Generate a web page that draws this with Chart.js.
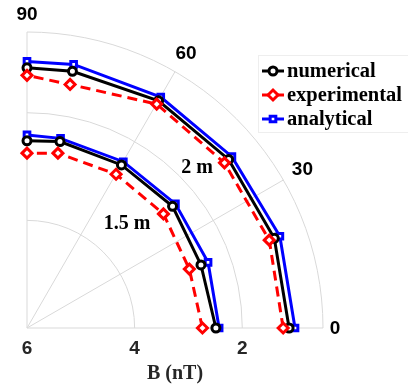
<!DOCTYPE html>
<html>
<head>
<meta charset="utf-8">
<script src="https://cdn.jsdelivr.net/npm/chart.js@4.4.1/dist/chart.umd.min.js"></script>
<style>
    html, body { margin: 0; padding: 0; background: #fff; }
    #wrap { width: 408px; height: 389px; position: relative; }
</style>
</head>
<body>
<div id="wrap"><canvas id="polar-chart"></canvas></div>
<script>
// angles in degrees, B in nT (radial axis runs from 6 at the centre to 0.5 at the rim)
const angles = [0, 20, 40, 60, 80, 90];

const numerical15 = [2.49, 2.56, 2.47, 2.49, 2.47, 2.51];
const experimental15 = [2.74, 2.79, 2.69, 2.69, 2.69, 2.74];
const analytical15 = [2.43, 2.42, 2.40, 2.42, 2.41, 2.40];

const numerical2 = [1.13, 1.11, 1.11, 1.11, 1.14, 1.15];
const experimental2 = [1.24, 1.21, 1.21, 1.18, 1.39, 1.29];
const analytical2 = [1.02, 1.00, 1.03, 1.03, 1.01, 1.03];

const rTicks = [6, 4, 2];
const angleTicks = [0, 30, 60, 90];
const B_CENTER = 6;
const B_RIM = 0.5;

document.addEventListener('DOMContentLoaded', function() {
    const R = B_CENTER - B_RIM;

    // polar (angle, B) -> cartesian in radius units
    function toXY(values) {
        return values.map(function(b, i) {
            const r = B_CENTER - b;
            const t = angles[i] * Math.PI / 180;
            return { x: r * Math.cos(t), y: r * Math.sin(t) };
        });
    }

    const series = [
        { name: 'numerical', color: '#000000', style: 'circle', dash: [], radius: 4 },
        { name: 'experimental', color: '#ff0000', style: 'rectRot', dash: [10, 6], radius: 5 },
        { name: 'analytical', color: '#0000ff', style: 'rect', dash: [], radius: 4 }
    ];

    function makeSet(s, values) {
        return {
            label: s.name,
            data: toXY(values),
            showLine: true,
            borderColor: s.color,
            backgroundColor: '#ffffff',
            borderWidth: 3,
            borderDash: s.dash,
            pointStyle: s.style,
            pointRadius: s.radius,
            pointBorderWidth: 3,
            pointBorderColor: s.color,
            pointBackgroundColor: '#ffffff',
            clip: false,
            tension: 0
        };
    }

    const datasets = [
        makeSet(series[1], experimental15),
        makeSet(series[0], numerical15),
        makeSet(series[2], analytical15),
        makeSet(series[1], experimental2),
        makeSet(series[0], numerical2),
        makeSet(series[2], analytical2)
    ];

    // grid, tick labels, annotations and legend
    const polarPlugin = {
        id: 'polarGrid',
        beforeDatasetsDraw: function(chart) {
            const ctx = chart.ctx;
            const xs = chart.scales.x, ys = chart.scales.y;
            const cx = xs.getPixelForValue(0), cy = ys.getPixelForValue(0);
            const pxPerUnit = xs.getPixelForValue(1) - cx;
            ctx.save();
            ctx.strokeStyle = '#d9d9d9';
            ctx.lineWidth = 1;
            // arcs at the tick values and the rim
            rTicks.concat([B_RIM]).forEach(function(b) {
                const r = (B_CENTER - b) * pxPerUnit;
                if (r <= 0) return;
                ctx.beginPath();
                ctx.arc(cx, cy, r, -Math.PI / 2, 0);
                ctx.stroke();
            });
            // spokes
            angleTicks.forEach(function(a) {
                const t = a * Math.PI / 180;
                ctx.beginPath();
                ctx.moveTo(cx, cy);
                ctx.lineTo(cx + R * pxPerUnit * Math.cos(t), cy - R * pxPerUnit * Math.sin(t));
                ctx.stroke();
            });
            ctx.restore();
        },
        afterDraw: function(chart) {
            const ctx = chart.ctx;
            const xs = chart.scales.x, ys = chart.scales.y;
            const cx = xs.getPixelForValue(0), cy = ys.getPixelForValue(0);
            const pxPerUnit = xs.getPixelForValue(1) - cx;
            const rim = R * pxPerUnit;
            ctx.save();

            // angle labels
            ctx.font = 'bold 19px "Liberation Sans", Arial, sans-serif';
            ctx.fillStyle = '#000';
            ctx.textBaseline = 'middle';
            angleTicks.forEach(function(a) {
                const t = a * Math.PI / 180;
                let off = 22;
                if (a === 0) off = 12;
                if (a === 90) off = 18;
                ctx.textAlign = 'center';
                ctx.fillText(String(a), cx + (rim + off) * Math.cos(t), cy - (rim + off) * Math.sin(t) + 1);
            });

            // radial tick labels
            ctx.fillStyle = '#262626';
            ctx.textAlign = 'center';
            rTicks.forEach(function(b) {
                ctx.fillText(String(b), xs.getPixelForValue(B_CENTER - b), cy + 21);
            });

            // axis title
            ctx.font = 'bold 20px "Liberation Serif", "Times New Roman", serif';
            ctx.fillStyle = '#262626';
            ctx.fillText('B (nT)', 175, 374);

            // distance annotations
            ctx.fillStyle = '#000';
            ctx.fillText('2 m', 197, 168);
            ctx.fillText('1.5 m', 127, 224);

            // legend
            const lx = 258, ly = 55, lw = 150, lh = 77;
            ctx.fillStyle = '#fff';
            ctx.fillRect(lx, ly, lw, lh);
            ctx.strokeStyle = '#eeeeee';
            ctx.lineWidth = 1;
            ctx.strokeRect(lx + 0.5, ly + 0.5, lw, lh);
            ctx.font = 'bold 20.5px "Liberation Serif", "Times New Roman", serif';
            const rowsY = [71, 95, 119];
            series.forEach(function(s, i) {
                const y = rowsY[i];
                ctx.strokeStyle = s.color;
                ctx.lineWidth = 3;
                ctx.setLineDash([]);
                ctx.beginPath();
                ctx.moveTo(262, y);
                ctx.lineTo(284, y);
                ctx.stroke();
                ctx.lineWidth = 3;
                ctx.fillStyle = '#ffffff';
                ctx.strokeStyle = s.color;
                Chart.helpers.drawPoint(ctx, {
                    pointStyle: s.style,
                    radius: s.radius,
                    borderWidth: 3
                }, 273, y);
                ctx.fillStyle = '#000';
                ctx.textAlign = 'left';
                ctx.fillText(s.name, 287, y + 1);
            });
            ctx.restore();
        }
    };

    new Chart(document.getElementById('polar-chart'), {
        type: 'scatter',
        data: { datasets: datasets },
        options: {
            responsive: true,
            maintainAspectRatio: false,
            animation: false,
            layout: { padding: { left: 27, right: 85, top: 33, bottom: 61 } },
            plugins: {
                legend: { display: false },
                tooltip: { enabled: false }
            },
            scales: {
                x: { type: 'linear', min: 0, max: R, display: false },
                y: { type: 'linear', min: 0, max: R, display: false }
            }
        },
        plugins: [polarPlugin]
    });
});
</script>
</body>
</html>
